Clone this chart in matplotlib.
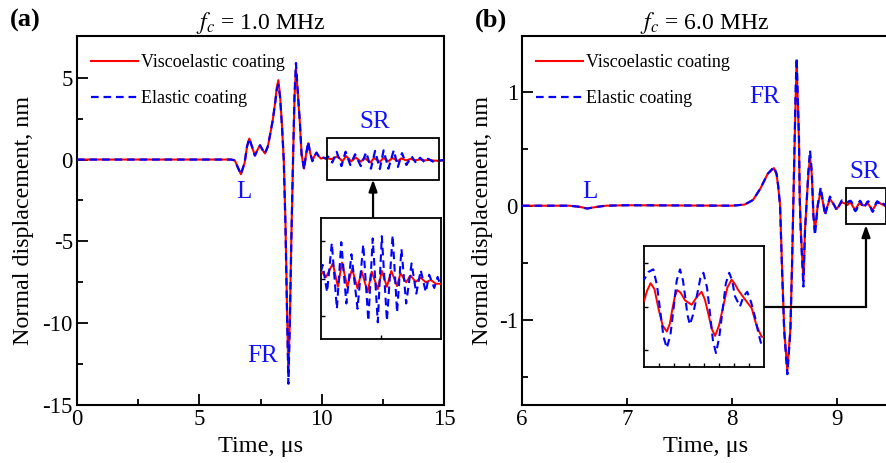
import numpy as np
import matplotlib
matplotlib.use("Agg")
import matplotlib.pyplot as plt
from matplotlib.patches import Rectangle

plt.rcParams['font.family'] = ['Liberation Serif', 'DejaVu Serif']
plt.rcParams['mathtext.fontset'] = 'stix'
plt.rcParams['lines.scale_dashes'] = False

# ---------------- Panel (a): fc = 1.0 MHz ----------------
a_t = [0.0, 6.30, 6.45, 6.55, 6.70, 6.85, 6.95, 7.04, 7.15, 7.27, 7.38, 7.48, 7.58,
       7.68, 7.80, 7.89, 8.00, 8.09, 8.17, 8.23, 8.30, 8.38, 8.45, 8.52, 8.58, 8.64,
       8.70, 8.76, 8.83, 8.89, 8.95, 9.03, 9.11, 9.18, 9.28, 9.36, 9.45, 9.53, 9.62,
       9.70, 9.79, 9.88, 9.97, 10.08, 10.17]
a_elastic = [0.0, 0.0, -0.05, -0.4, -0.9, -0.2, 0.8, 1.28, 0.8, 0.24, 0.6, 0.87, 0.6,
             0.37, 0.8, 1.5, 2.4, 3.35, 4.3, 4.57, 3.8, 2.0, 0.0, -4.0, -9.0, -13.7,
             -10.0, -5.0, 0.0, 4.0, 5.9, 4.0, 2.3, 0.3, -0.6, 0.3, 1.08, 0.4, -0.1,
             0.2, 0.43, 0.2, 0.06, 0.12, 0.05]
a_visco = [0.0, 0.0, -0.05, -0.4, -0.9, -0.2, 0.8, 1.28, 0.8, 0.24, 0.6, 0.87, 0.6,
           0.37, 0.8, 1.5, 2.4, 3.4, 4.45, 4.85, 3.9, 2.0, 0.0, -3.9, -8.8, -13.2,
           -9.7, -4.8, 0.0, 3.8, 5.6, 3.9, 2.2, 0.3, -0.55, 0.3, 1.0, 0.4, -0.08,
           0.2, 0.4, 0.2, 0.06, 0.1, 0.08]

# surface-wave (SR) part of panel (a)
a_sr_t_el = [10.265, 10.433, 10.615, 10.809, 10.977, 11.172, 11.366, 11.60, 11.82,
             12.014, 12.183, 12.377, 12.532, 12.727, 12.947, 13.116, 13.284, 13.465,
             13.673, 13.854, 14.023, 14.217, 14.347, 14.541, 14.671, 14.761, 15.0]
a_sr_el = [0.18, -0.18, 0.47, -0.40, 0.48, -0.33, 0.32, -0.40, 0.45, -0.56, 0.53,
           -0.58, 0.56, -0.56, 0.57, -0.45, 0.39, -0.33, 0.20, -0.20, 0.11, -0.18,
           0.05, -0.125, 0.02, -0.07, -0.03]
a_sr_t_ve = [10.20, 10.394, 10.653, 10.848, 11.003, 11.21, 11.392, 11.60, 11.755,
             11.988, 12.144, 12.377, 12.532, 12.727, 12.895, 13.116, 13.245, 13.465,
             13.634, 13.828, 14.023, 14.217, 14.41, 14.606, 14.80, 15.0]
a_sr_ve = [0.10, 0.02, 0.20, -0.11, 0.21, -0.11, 0.13, -0.13, 0.10, -0.18, 0.09,
           -0.14, 0.10, -0.11, 0.10, -0.10, 0.07, -0.05, 0.04, -0.045, 0.01, -0.05,
           -0.02, -0.07, -0.07, -0.05]

# ---------------- Panel (b): fc = 6.0 MHz ----------------
b_t = [6.0, 6.45, 6.55, 6.62, 6.70, 6.80, 7.0, 7.5, 8.0, 8.12, 8.20, 8.27, 8.34, 8.40,
       8.425, 8.44, 8.458, 8.475, 8.497, 8.527, 8.556, 8.572, 8.585, 8.597, 8.607,
       8.616, 8.638, 8.645, 8.655, 8.68, 8.695, 8.712, 8.727, 8.743, 8.76, 8.775,
       8.79, 8.816, 8.845, 8.866, 8.886, 8.91, 8.933, 8.965, 8.997, 9.02, 9.045, 9.075]
b_elastic = [0.0, 0.0, -0.01, -0.025, -0.012, 0.0, 0.004, 0.002, 0.0, 0.01, 0.05, 0.15,
             0.28, 0.34, 0.28, 0.175, 0.0, -0.52, -1.1, -1.48, -1.1, -0.52, 0.06, 0.6,
             1.05, 1.30, 0.59, 0.06, -0.23, -0.71, -0.23, 0.05, 0.3, 0.485, 0.3, -0.085,
             -0.26, 0.0, 0.16, 0.04, -0.085, 0.0, 0.08, 0.02, -0.04, 0.0, 0.046, 0.04]
b_visco = [0.0, 0.0, -0.01, -0.025, -0.012, 0.0, 0.004, 0.002, 0.0, 0.01, 0.05, 0.15,
           0.28, 0.33, 0.27, 0.17, 0.0, -0.5, -1.08, -1.45, -1.08, -0.5, 0.06, 0.57,
           0.98, 1.23, 0.56, 0.06, -0.21, -0.66, -0.21, 0.05, 0.27, 0.43, 0.27, -0.07,
           -0.22, 0.0, 0.13, 0.03, -0.06, 0.0, 0.06, 0.015, -0.03, 0.0, 0.03, 0.02]

# surface-wave (SR) part of panel (b)
b_sr_t_el = [9.10, 9.115, 9.131, 9.143, 9.153, 9.165, 9.176, 9.188, 9.198, 9.209, 9.22,
             9.23, 9.237, 9.245, 9.253, 9.263, 9.276, 9.288, 9.298, 9.31, 9.32, 9.33,
             9.34, 9.351, 9.362, 9.373, 9.384, 9.394, 9.403, 9.42, 9.432, 9.444, 9.457,
             9.47, 9.482, 9.492, 9.50]
b_sr_el = [0.031, 0.040, 0.043, 0.025, -0.002, -0.035, -0.048, -0.033, -0.004, 0.030,
           0.043, 0.030, 0.012, -0.010, -0.021, -0.010, 0.012, 0.033, 0.039, 0.022,
           -0.008, -0.040, -0.054, -0.035, -0.004, 0.027, 0.039, 0.030, 0.012, 0.0,
           0.012, 0.017, 0.005, -0.012, -0.032, -0.045, -0.043]
b_sr_t_ve = [9.10, 9.11, 9.122, 9.135, 9.148, 9.162, 9.176, 9.186, 9.194, 9.203, 9.211,
             9.222, 9.237, 9.259, 9.276, 9.292, 9.303, 9.314, 9.326, 9.337, 9.35, 9.364,
             9.378, 9.392, 9.403, 9.414, 9.437, 9.459, 9.475, 9.492, 9.50]
b_sr_ve = [0.006, 0.018, 0.027, 0.020, -0.002, -0.022, -0.029, -0.020, -0.004, 0.012,
           0.019, 0.016, 0.007, 0.002, 0.011, 0.017, 0.008, -0.008, -0.026, -0.034,
           -0.022, 0.0, 0.022, 0.031, 0.026, 0.019, 0.008, -0.002, -0.022, -0.035, -0.035]

RED = '#ff0000'
BLUE = '#0000ff'
TXT = '#1010ff'

fig = plt.figure(figsize=(8.87, 4.63), dpi=100)
W, H = 887.0, 463.0


def fx(px):
    return px / W


def fy(py):
    return 1 - py / H


def style_main(ax):
    for s in ax.spines.values():
        s.set_linewidth(1.5)
    ax.tick_params(which='both', direction='in', top=False, right=False,
                   labelsize=16.5, width=1.3, pad=3)
    ax.tick_params(which='major', length=8)
    ax.tick_params(which='minor', length=4.5)


def style_inset(ax):
    for s in ax.spines.values():
        s.set_linewidth(1.3)
    ax.tick_params(which='both', direction='in', top=False, right=False,
                   labelbottom=False, labelleft=False, length=3, width=1.0)


def plot_pair(ax, tv, vv, te, ve, lw_r=1.5, lw_b=1.6, label=True):
    ax.plot(tv, vv, color=RED, lw=lw_r, solid_joinstyle='round',
            label='Viscoelastic coating' if label else None, zorder=3)
    ax.plot(te, ve, color=BLUE, lw=lw_b, ls=(0, (5.5, 3.5)),
            label='Elastic coating' if label else None, zorder=4)


LEG = dict(loc='upper left', frameon=False, fontsize=13, handlelength=2.65,
           handletextpad=0.12, labelspacing=1.05, borderaxespad=0.6,
           bbox_to_anchor=(-0.012, 1.0))

# ---------- panel (a)
ta_ve = a_t + a_sr_t_ve
va_ve = a_visco + a_sr_ve
ta_el = a_t + a_sr_t_el
va_el = a_elastic + a_sr_el

axa = fig.add_axes([fx(77), fy(405), fx(444) - fx(77), fy(36) - fy(405)])
plot_pair(axa, ta_ve, va_ve, ta_el, va_el)
axa.set_xlim(0, 15)
axa.set_ylim(-15, 7.55)
axa.set_xticks([0, 5, 10, 15])
axa.set_xticks([2.5, 7.5, 12.5], minor=True)
axa.set_yticks([-15, -10, -5, 0, 5])
axa.set_yticks([-12.5, -7.5, -2.5, 2.5], minor=True)
axa.set_yticklabels(['-15', '-10', '-5', '0', '5'])
style_main(axa)
axa.set_xlabel('Time, \u03bcs', fontsize=17.5, labelpad=4)
axa.set_ylabel('Normal displacement, nm', fontsize=17.3, labelpad=6)
axa.set_title(r'$f_c$' + ' = 1.0 MHz', fontsize=17, pad=5)
axa.legend(**LEG)
axa.text(6.83, -2.0, 'L', color=TXT, fontsize=18, ha='center', va='center')
axa.text(7.6, -12.0, 'FR', color=TXT, fontsize=18, ha='center', va='center')
axa.text(12.18, 2.3, 'SR', color=TXT, fontsize=18, ha='center', va='center')
axa.add_patch(Rectangle((10.22, -1.22), 14.79 - 10.22, 1.34 + 1.22, fill=False,
                        lw=1.3, ec='black', zorder=5))
axa.annotate('', xy=(12.1, -1.22), xytext=(12.1, -3.54),
             arrowprops=dict(arrowstyle='-|>,head_length=0.7,head_width=0.25',
                             color='black', lw=1.6, shrinkA=0, shrinkB=0))

insa = fig.add_axes([fx(321), fy(339), fx(441) - fx(321), fy(218) - fy(339)])
plot_pair(insa, ta_ve, va_ve, ta_el, va_el, lw_r=1.4, lw_b=1.5, label=False)
insa.set_xlim(10.2, 14.8)
insa.set_ylim(-0.8, 0.8)
insa.set_xticks([12.5])
insa.set_yticks([-0.5, 0, 0.5])
style_inset(insa)

fig.text(fx(25), fy(20), '(a)', fontsize=19, fontweight='bold', ha='center', va='center')

# ---------- panel (b)
tb_ve = b_t + b_sr_t_ve
vb_ve = b_visco + b_sr_ve
tb_el = b_t + b_sr_t_el
vb_el = b_elastic + b_sr_el

axb = fig.add_axes([fx(522), fy(405), fx(889.5) - fx(522), fy(36) - fy(405)])
plot_pair(axb, tb_ve, vb_ve, tb_el, vb_el)
axb.set_xlim(6, 9.5)
axb.set_ylim(-1.75, 1.49)
axb.set_xticks([6, 7, 8, 9])
axb.set_yticks([-1, 0, 1])
axb.set_yticks([-1.5, -0.5, 0.5], minor=True)
axb.set_yticklabels(['-1', '0', '1'])
style_main(axb)
axb.spines['right'].set_visible(False)
axb.tick_params(axis='x', which='major', length=5)
axb.set_xlabel('Time, \u03bcs', fontsize=17.5, labelpad=4)
axb.set_ylabel('Normal displacement, nm', fontsize=17.3, labelpad=4)
axb.set_title(r'$f_c$' + ' = 6.0 MHz', fontsize=17, pad=5,
              x=(fx(705) - fx(522)) / (fx(889.5) - fx(522)))
axb.legend(**LEG)
axb.text(6.65, 0.12, 'L', color=TXT, fontsize=18, ha='center', va='center')
axb.text(8.31, 0.955, 'FR', color=TXT, fontsize=18, ha='center', va='center')
axb.text(9.26, 0.30, 'SR', color=TXT, fontsize=18, ha='center', va='center')
axb.add_patch(Rectangle((9.086, -0.158), 9.467 - 9.086, 0.316, fill=False,
                        lw=1.3, ec='black', zorder=5, clip_on=False))
axb.plot([8.305, 9.276], [-0.886, -0.886], color='black', lw=1.6, zorder=5)
axb.annotate('', xy=(9.276, -0.17), xytext=(9.276, -0.886),
             arrowprops=dict(arrowstyle='-|>,head_length=0.7,head_width=0.25',
                             color='black', lw=1.6, shrinkA=0, shrinkB=0))

insb = fig.add_axes([fx(644), fy(367), fx(764) - fx(644), fy(246) - fy(367)])
plot_pair(insb, tb_ve, vb_ve, tb_el, vb_el, lw_r=1.4, lw_b=1.5, label=False)
insb.set_xlim(9.1, 9.5)
insb.set_ylim(-0.07, 0.07)
insb.set_xticks([9.15, 9.2, 9.25, 9.3, 9.35, 9.4, 9.45])
insb.set_yticks([-0.05, 0, 0.05])
style_inset(insb)

fig.text(fx(491), fy(20), '(b)', fontsize=19, fontweight='bold', ha='center', va='center')

fig.savefig('out.png', dpi=100)
